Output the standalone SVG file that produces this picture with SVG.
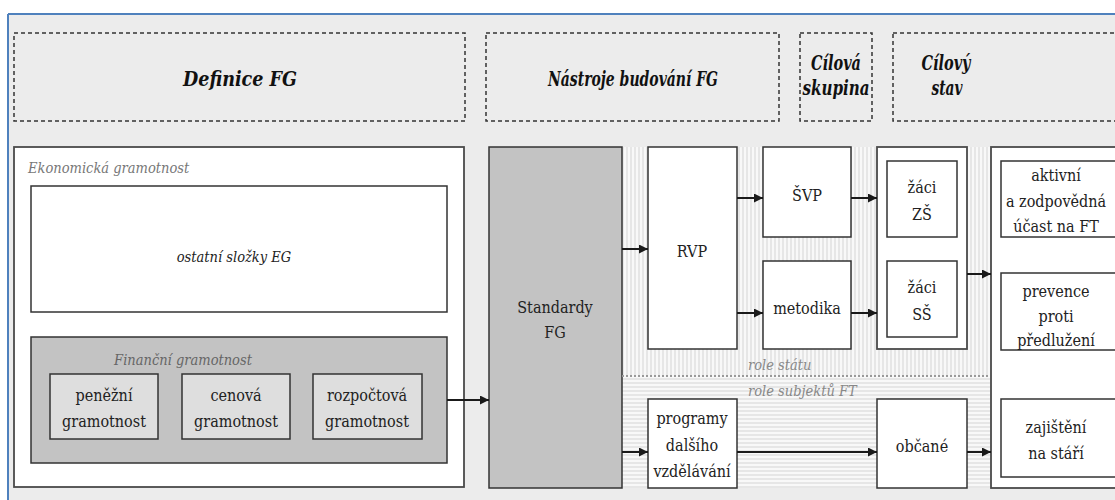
<svg xmlns="http://www.w3.org/2000/svg" width="1115" height="500" viewBox="0 0 1115 500">
<style>
.hdr{fill:none;stroke:#333;stroke-width:1.5;stroke-dasharray:4 3}
.ht{font-family:'DejaVu Serif',serif;font-weight:bold;font-style:italic;font-size:20px;fill:#111;text-anchor:middle;font-stretch:condensed}
.outer{fill:#fff;stroke:#4a4a4a;stroke-width:1.8}
.box{fill:#fff;stroke:#333;stroke-width:1.5}
.gbox{fill:#c3c3c3;stroke:#333;stroke-width:1.5}
.lbox{fill:#dedede;stroke:#333;stroke-width:1.5}
.t{font-family:'DejaVu Serif',serif;font-size:16px;font-stretch:condensed;fill:#222;text-anchor:middle}
.it{font-family:'DejaVu Serif',serif;font-style:italic;font-size:14.5px;font-stretch:condensed;fill:#777}
.con{stroke:#1a1a1a;stroke-width:2;fill:none}
</style>
<defs>
<marker id="ah" viewBox="0 0 10 10" refX="10" refY="5" markerWidth="9" markerHeight="9" markerUnits="userSpaceOnUse" orient="auto">
<path d="M0,0 L10,5 L0,10 z" fill="#1a1a1a"/>
</marker>
<pattern id="vs" width="4" height="4" patternUnits="userSpaceOnUse"><rect width="4" height="4" fill="#e6e6e6"/><rect width="2" height="4" fill="#f8f8f8"/></pattern>
<pattern id="hs" width="4" height="4" patternUnits="userSpaceOnUse"><rect width="4" height="4" fill="#e6e6e6"/><rect width="4" height="2" fill="#f8f8f8"/></pattern>
</defs>
<rect x="0" y="0" width="1115" height="500" fill="#fff"/>
<rect x="8" y="14" width="1107" height="486" fill="#ececec"/>
<line x1="8" y1="14" x2="1115" y2="14" stroke="#4f81bd" stroke-width="2"/>
<line x1="8" y1="14" x2="8" y2="500" stroke="#4f81bd" stroke-width="2"/>
<rect x="622" y="147" width="368" height="229" fill="url(#vs)"/>
<rect x="622" y="376" width="368" height="112" fill="url(#hs)"/>

<g id="h-definice"><rect class="hdr" x="14" y="33" width="451" height="88"/><text class="ht" x="240" y="86" textLength="114" lengthAdjust="spacingAndGlyphs">Definice FG</text></g>
<g id="h-nastroje"><rect class="hdr" x="486" y="33" width="293" height="88"/><text class="ht" x="633" y="86" textLength="170" lengthAdjust="spacingAndGlyphs">Nástroje budování FG</text></g>
<g id="h-cilova"><rect class="hdr" x="800" y="33" width="72" height="88"/><text class="ht" x="836" y="70" textLength="50" lengthAdjust="spacingAndGlyphs">Cílová</text><text class="ht" x="836" y="95" textLength="67" lengthAdjust="spacingAndGlyphs">skupina</text></g>
<g id="h-cilovy"><rect class="hdr" x="893" y="33" width="240" height="88"/><text class="ht" x="946" y="70" textLength="49" lengthAdjust="spacingAndGlyphs">Cílový</text><text class="ht" x="947" y="95" textLength="31" lengthAdjust="spacingAndGlyphs">stav</text></g>

<g id="ekonomicka"><rect class="outer" x="14" y="147" width="450" height="340"/><text class="it" x="28" y="173">Ekonomická gramotnost</text></g>
<g id="ostatni"><rect class="box" x="31" y="186" width="416" height="126"/><text class="it" x="234" y="262" text-anchor="middle" style="fill:#222">ostatní složky EG</text></g>
<g id="financni"><rect class="gbox" x="31" y="337" width="416" height="126"/><text class="it" x="183" y="365" text-anchor="middle" style="fill:#666">Finanční gramotnost</text></g>
<g id="penezni"><rect class="lbox" x="50" y="374" width="108" height="65"/><text class="t" x="104" y="401">peněžní</text><text class="t" x="104" y="427">gramotnost</text></g>
<g id="cenova"><rect class="lbox" x="182" y="374" width="108" height="65"/><text class="t" x="236" y="401">cenová</text><text class="t" x="236" y="427">gramotnost</text></g>
<g id="rozpoctova"><rect class="lbox" x="313" y="374" width="109" height="65"/><text class="t" x="367" y="401">rozpočtová</text><text class="t" x="367" y="427">gramotnost</text></g>

<g id="standardy"><rect class="gbox" x="489" y="147" width="133" height="341"/><text class="t" x="555" y="313">Standardy</text><text class="t" x="555" y="338">FG</text></g>
<g id="rvp"><rect class="box" x="648" y="147" width="89" height="202"/><text class="t" x="692" y="257">RVP</text></g>
<g id="svp"><rect class="box" x="763" y="147" width="88" height="90"/><text class="t" x="807" y="201">ŠVP</text></g>
<g id="metodika"><rect class="box" x="763" y="261" width="88" height="88"/><text class="t" x="807" y="314">metodika</text></g>
<g id="programy"><rect class="box" x="648" y="399" width="89" height="89"/><text class="t" x="692" y="424">programy</text><text class="t" x="692" y="451">dalšího</text><text class="t" x="692" y="477">vzdělávání</text></g>

<g id="roles">
<line x1="622" y1="376" x2="990" y2="376" stroke="#9a9a9a" stroke-width="2" stroke-dasharray="2 2"/>
<text class="it" x="748" y="370" style="fill:#888">role státu</text>
<text class="it" x="748" y="396" style="fill:#888">role subjektů FT</text>
</g>

<g id="cilova-skupina"><rect class="outer" x="877" y="147" width="90" height="202"/></g>
<g id="zaci-zs"><rect class="box" x="887" y="161" width="70" height="76"/><text class="t" x="922" y="193">žáci</text><text class="t" x="922" y="220">ZŠ</text></g>
<g id="zaci-ss"><rect class="box" x="887" y="261" width="70" height="76"/><text class="t" x="922" y="293">žáci</text><text class="t" x="922" y="320">SŠ</text></g>
<g id="obcane"><rect class="box" x="877" y="399" width="90" height="89"/><text class="t" x="922" y="452">občané</text></g>

<g id="cilovy-stav"><rect class="outer" x="991" y="147" width="140" height="341"/></g>
<g id="aktivni"><rect class="box" x="1001" y="161" width="130" height="76"/><text class="t" x="1056" y="181">aktivní</text><text class="t" x="1056" y="207">a zodpovědná</text><text class="t" x="1056" y="232">účast na FT</text></g>
<g id="prevence"><rect class="box" x="1001" y="273" width="130" height="77"/><text class="t" x="1056" y="297">prevence</text><text class="t" x="1056" y="322">proti</text><text class="t" x="1056" y="346">předlužení</text></g>
<g id="zajisteni"><rect class="box" x="1001" y="399" width="130" height="78"/><text class="t" x="1056" y="433">zajištění</text><text class="t" x="1056" y="459">na stáří</text></g>

<g id="connectors">
<line class="con" x1="447" y1="400" x2="489" y2="400" marker-end="url(#ah)"/>
<line class="con" x1="622" y1="249" x2="648" y2="249" marker-end="url(#ah)"/>
<line class="con" x1="622" y1="452" x2="648" y2="452" marker-end="url(#ah)"/>
<line class="con" x1="737" y1="198" x2="763" y2="198" marker-end="url(#ah)"/>
<line class="con" x1="737" y1="313" x2="763" y2="313" marker-end="url(#ah)"/>
<line class="con" x1="851" y1="198" x2="877" y2="198" marker-end="url(#ah)"/>
<line class="con" x1="851" y1="313" x2="877" y2="313" marker-end="url(#ah)"/>
<line class="con" x1="737" y1="452" x2="877" y2="452" marker-end="url(#ah)"/>
<line class="con" x1="967" y1="274" x2="991" y2="274" marker-end="url(#ah)"/>
<line class="con" x1="967" y1="452" x2="991" y2="452" marker-end="url(#ah)"/>
</g>
</svg>
